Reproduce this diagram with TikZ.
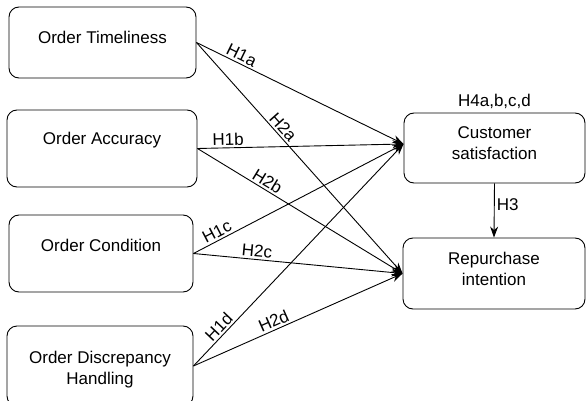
\documentclass[tikz,border=0pt]{standalone}
\usepackage{fontspec}
\setmainfont{Liberation Sans}
\usepackage{tikz}
\usetikzlibrary{arrows.meta}

\begin{document}
\begin{tikzpicture}[x=1pt, y=-1pt, line width=0.9pt,
        font=\fontsize{17}{21}\selectfont,
        box/.style={draw, rounded corners=10pt},
        hyp/.style={sloped, above, inner sep=2pt},
        arr/.style={-{Stealth[length=11pt, width=8pt]}}]
        \useasboundingbox (0,0) rectangle (586,401);

        % left side
        \node[box, minimum width=187pt, minimum height=71pt, label={[yshift=5.5pt]center:Order Timeliness}] (time) at (102.5, 42.5) {};
        \node[box, minimum width=190pt, minimum height=77pt, label={[yshift=8.5pt]center:Order Accuracy}] (accu) at (102, 148.5) {};
        \node[box, minimum width=184pt, minimum height=77pt, label={[yshift=8.5pt]center:Order Condition}] (cond) at (101, 253.5) {};
        \node[box, minimum width=186pt, minimum height=80pt, label={[yshift=-4pt, align=center]center:{Order Discrepancy\\Handling}}] (hand) at (100, 366) {};

        % right side
        \node[box, minimum width=181pt, minimum height=70pt, label={[yshift=4.5pt, align=center]center:{Customer\\satisfaction}}, label={above:{H4a,b,c,d}}] (cs) at (494.5, 148) {};
        \node[box, minimum width=182pt, minimum height=71pt, label={[yshift=4.5pt, align=center]center:{Repurchase\\intention}}] (ri) at (494, 273.5) {};

        \draw[arr] (time.east) to node[hyp, pos=0.2] {H1a} ([yshift=4pt]cs.west);
        \draw[arr] (accu.east) to node[hyp, pos=0.15] {H1b} ([yshift=4pt]cs.west);
        \draw[arr] (cond.east) to node[hyp, pos=0.13] {H1c} ([yshift=4pt]cs.west);
        \draw[arr] (hand.east) to node[hyp, pos=0.15] {H1d} ([yshift=4pt]cs.west);

        \draw[arr] (time.east) to node[hyp, pos=0.39] {H2a} (ri.west);
        \draw[arr] (accu.east) to node[hyp, pos=0.32] {H2b} (ri.west);
        \draw[arr] (cond.east) to node[hyp, pos=0.3] {H2c} (ri.west);
        \draw[arr] (hand.east) to node[hyp, pos=0.4] {H2d} (ri.west);

        \draw[arr] (cs.south) to node[right, pos=0.4, inner sep=2pt] {H3} (ri.north);
\end{tikzpicture}
\end{document}
